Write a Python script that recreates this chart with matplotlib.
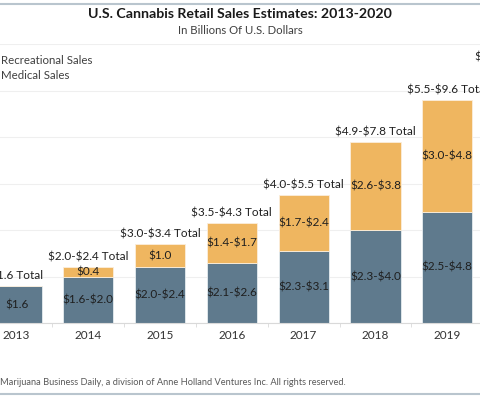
import matplotlib
matplotlib.use("Agg")
import matplotlib.pyplot as plt
import numpy as np
from matplotlib.lines import Line2D

plt.rcParams["font.family"] = ["Lato", "DejaVu Sans"]
plt.rcParams["text.parse_math"] = False

years = ["2013", "2014", "2015", "2016", "2017", "2018", "2019", "2020"]
# bar heights use the upper end of each estimate
medical = [1.6, 2.0, 2.4, 2.6, 3.1, 4.0, 4.8, 5.4]
recreational = [0.0, 0.4, 1.0, 1.7, 2.4, 3.8, 4.8, 5.6]
medical_labels = ["$1.6", "$1.6-$2.0", "$2.0-$2.4", "$2.1-$2.6", "$2.3-$3.1",
                  "$2.3-$4.0", "$2.5-$4.8", "$2.7-$5.4"]
rec_labels = ["", "$0.4", "$1.0", "$1.4-$1.7", "$1.7-$2.4", "$2.6-$3.8",
              "$3.0-$4.8", "$3.9-$5.6"]
total_labels = ["$1.6 Total", "$2.0-$2.4 Total", "$3.0-$3.4 Total",
                "$3.5-$4.3 Total", "$4.0-$5.5 Total", "$4.9-$7.8 Total",
                "$5.5-$9.6 Total", "$6.6-$11.0 Total"]

med_color = "#5f7a8d"
rec_color = "#efb660"
text_color = "#1f1f1f"

fig = plt.figure(figsize=(4.8, 3.96), dpi=100)
ax = fig.add_axes([-0.0402, 0.1838, 1.196, 0.7051])

x = np.arange(len(years))
ax.bar(x, medical, width=0.7, color=med_color, edgecolor="#e6ecf0", linewidth=0.6,
       zorder=2, label="Medical Sales")
ax.bar(x, recreational, width=0.7, bottom=medical, color=rec_color,
       edgecolor="#fbeedc", linewidth=0.6, zorder=2, label="Recreational Sales")

for i in x:
    ax.text(i, medical[i] / 2, medical_labels[i], ha="center", va="center",
            fontsize=8.5, color=text_color, zorder=3)
    if recreational[i] > 0:
        ax.text(i, medical[i] + recreational[i] / 2, rec_labels[i], ha="center",
                va="center", fontsize=8.5, color=text_color, zorder=3)
    ax.annotate(total_labels[i], (i, medical[i] + recreational[i]),
                xytext=(0, 7.3), textcoords="offset points", ha="center",
                va="center", fontsize=8.5, color=text_color, zorder=3)

ax.set_xlim(-0.5, 7.5)
ax.set_ylim(0, 12)
ax.set_yticks(np.arange(0, 13, 2))
ax.yaxis.grid(True, color="#efefef", linewidth=0.8, zorder=0)
ax.set_axisbelow(True)
for s in ["top", "left", "right"]:
    ax.spines[s].set_visible(False)
ax.spines["bottom"].set_color("#d9d9d9")
ax.tick_params(axis="y", left=False, labelleft=False)
ax.set_xticks(x)
ax.set_xticklabels(years, fontsize=8.5, color="#333333")
ax.tick_params(axis="x", length=0, pad=5)
ax.set_xticks(x[:-1] + 0.5, minor=True)
ax.tick_params(axis="x", which="minor", length=3, color="#d9d9d9")

leg = ax.legend(handles=[ax.patches[len(x)], ax.patches[0]],
                labels=["Recreational Sales", "Medical Sales"],
                loc="upper left", bbox_transform=fig.transFigure,
                bbox_to_anchor=(-0.03, 0.862), frameon=False, fontsize=8.3,
                handlelength=0.8, handleheight=0.8, handletextpad=0.5,
                labelspacing=0.35, borderpad=0, borderaxespad=0,
                labelcolor="#404040")

fig.text(0.5, 0.965, "U.S. Cannabis Retail Sales Estimates: 2013-2020",
         ha="center", va="center", fontsize=10.2, fontweight="bold",
         color="#1a1a1a")
fig.text(0.5, 0.922, "In Billions Of U.S. Dollars", ha="center", va="center",
         fontsize=8.2, color="#404040")
fig.text(0.0, 0.033, "Marijuana Business Daily, a division of Anne Holland Ventures Inc. All rights reserved.",
         ha="left", va="center", fontsize=6.7, color="#595959")

fig.add_artist(Line2D([0, 1], [0.9905, 0.9905], transform=fig.transFigure,
                      color="#b9c5ce", linewidth=1.5))
fig.add_artist(Line2D([0, 1], [0.005, 0.005], transform=fig.transFigure,
                      color="#b9c5ce", linewidth=1.5))

fig.savefig("out.png", dpi=100)
